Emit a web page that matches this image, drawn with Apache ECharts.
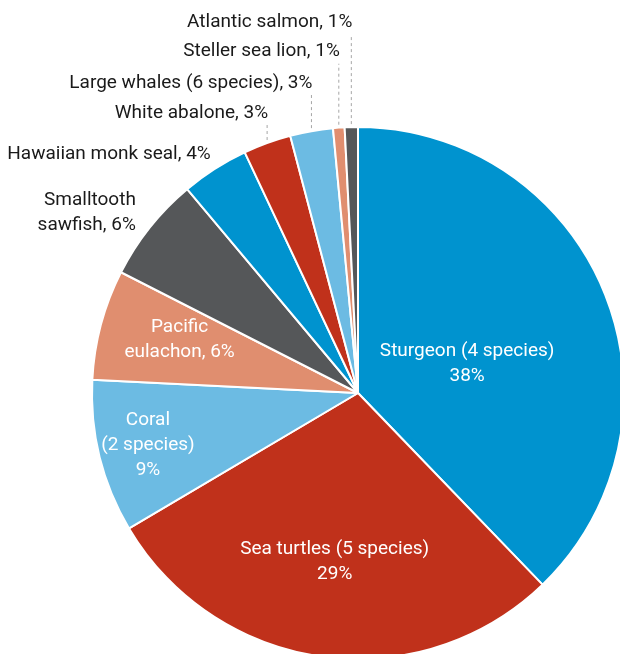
<!DOCTYPE html>
<html>
<head>
<meta charset="utf-8">
<script src="https://cdn.jsdelivr.net/npm/echarts@6/dist/echarts.min.js"></script>
<style>
html, body { margin: 0; padding: 0; background: #fff; }
#main { width: 620px; height: 654px; }
</style>
</head>
<body>
<div id="main"></div>
<script>
var categories = ['Sturgeon (4 species)', 'Sea turtles (5 species)', 'Coral\n(2 species)', 'Pacific\neulachon',
    'Smalltooth\nsawfish', 'Hawaiian monk seal', 'White abalone', 'Large whales (6 species)',
    'Steller sea lion', 'Atlantic salmon'];
var shares = [37.8, 28.7, 9.3, 6.7, 6.4, 4.1, 2.9, 2.6, 0.7, 0.8];
var pctLabels = [38, 29, 9, 6, 6, 4, 3, 3, 1, 1];
var colors = ['#0093cf', '#c0311b', '#6cbbe3', '#e08e6f', '#555759',
    '#0093cf', '#c0311b', '#6cbbe3', '#e08e6f', '#555759'];

// label tweaks
var innerShift = {0: [-17, 22], 1: [-5, 34], 2: [-78, 20], 3: [-47, -18]};
var sideShift = {4: [-14, -15], 5: [-4, -15]};
var leaderRise = {6: 30, 7: 48, 8: 76, 9: 105};

var font = "'Liberation Sans Narrow', 'Roboto', sans-serif";

var myChart = echarts.init(document.getElementById('main'));

var data = [];
for (var i = 0; i < categories.length; i++) {
    var inside = i < 4;
    data.push({
        name: categories[i],
        value: shares[i],
        itemStyle: { color: colors[i] },
        label: {
            position: inside ? 'inside' : 'outside',
            color: inside ? '#ffffff' : '#1a1a1a'
        },
        labelLine: {
            show: !inside,
            lineStyle: { opacity: sideShift[i] ? 0 : 1 }
        }
    });
}

var option = {
    animation: false,
    series: [
        {
            type: 'pie',
            center: [358, 393],
            radius: 266,
            startAngle: 90,
            clockwise: true,
            avoidLabelOverlap: false,
            itemStyle: {
                borderColor: '#ffffff',
                borderWidth: 2
            },
            label: {
                fontFamily: font,
                fontSize: 19,
                lineHeight: 25,
                align: 'center',
                formatter: function (p) {
                    var i = p.dataIndex;
                    if (i < 3) return p.name + '\n' + pctLabels[i] + '%';
                    return p.name + ', ' + pctLabels[i] + '%';
                }
            },
            labelLine: {
                length: 10,
                length2: 10,
                lineStyle: { color: '#a6a6a6', width: 1, type: [3, 3] }
            },
            labelLayout: function (params) {
                var i = params.dataIndex;
                if (innerShift[i]) {
                    return { dx: innerShift[i][0], dy: innerShift[i][1] };
                }
                var p = params.labelLinePoints && params.labelLinePoints[0];
                if (!p) return {};
                if (sideShift[i]) {
                    return {
                        x: p[0] + sideShift[i][0],
                        y: p[1] + sideShift[i][1],
                        align: 'right',
                        verticalAlign: 'middle'
                    };
                }
                var ty = p[1] - leaderRise[i];
                return {
                    x: p[0] + 1,
                    y: ty,
                    align: 'right',
                    verticalAlign: 'middle',
                    labelLinePoints: [[p[0], p[1] - 3], [p[0], ty + 12], [p[0], ty + 12]]
                };
            },
            data: data
        }
    ]
};

myChart.setOption(option);
window.addEventListener('resize', function () {
    myChart.resize();
});
</script>
</body>
</html>
